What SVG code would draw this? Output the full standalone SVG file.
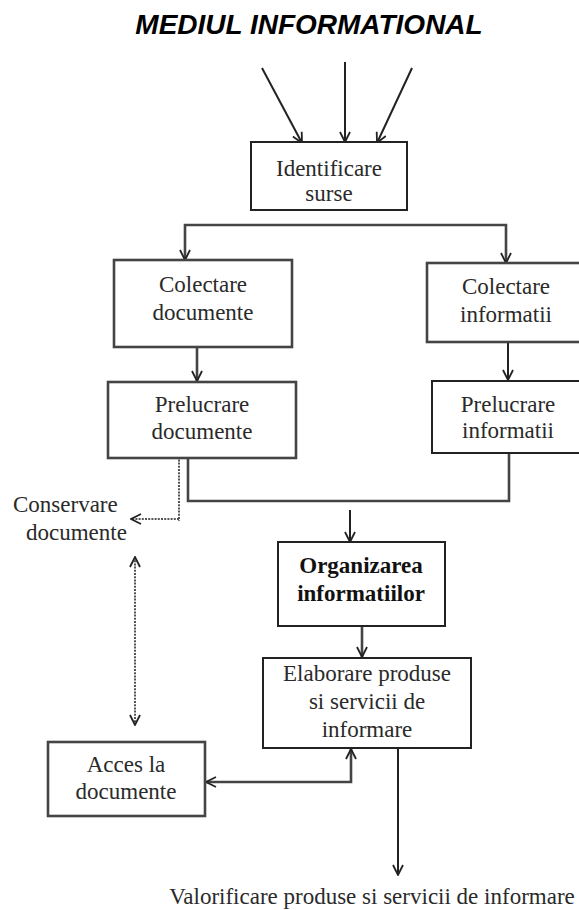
<svg xmlns="http://www.w3.org/2000/svg" width="579" height="910" viewBox="0 0 579 910">
<defs>
<style>
.box{fill:#fff;stroke:#222;stroke-width:2}
.boxg{fill:#fff;stroke:#444;stroke-width:2.6}
.t{font-family:"Liberation Serif","Times New Roman",serif;font-size:23px;fill:#2a2a2a;text-anchor:middle}
.tb{font-weight:bold;fill:#111}
.title{font-family:"Liberation Sans",Arial,sans-serif;font-size:28px;font-weight:bold;font-style:italic;fill:#000;text-anchor:middle}
.ln{fill:none;stroke:#222;stroke-width:2}
.lng{fill:none;stroke:#444;stroke-width:2.6}
.dot{fill:none;stroke:#555;stroke-width:2;stroke-dasharray:2 1.2}
</style>
<marker id="ah" viewBox="0 0 12 12" refX="11" refY="6" markerWidth="12" markerHeight="12" markerUnits="userSpaceOnUse" orient="auto-start-reverse">
<path d="M1,1 L11,6 L1,11" fill="none" stroke="#222" stroke-width="1.8"/>
</marker>
</defs>
<rect width="579" height="910" fill="#fff"/>
<text class="title" x="309" y="34">MEDIUL INFORMATIONAL</text>

<g id="connectors">
<line class="ln" x1="262" y1="68" x2="302" y2="143" marker-end="url(#ah)"/>
<line class="ln" x1="345" y1="62" x2="345" y2="142" marker-end="url(#ah)"/>
<line class="ln" x1="412" y1="68" x2="377" y2="143" marker-end="url(#ah)"/>
<path class="lng" d="M185,260 V225 H506 V263" marker-start="url(#ah)" marker-end="url(#ah)"/>
<line class="lng" x1="197" y1="347" x2="197" y2="381" marker-end="url(#ah)"/>
<line class="ln" x1="508" y1="342" x2="508" y2="380" marker-end="url(#ah)"/>
<path class="lng" d="M188,453 V501 H509 V453"/>
<path class="dot" d="M179,453 V521 M179,519 H131" marker-end="url(#ah)"/>
<line class="dot" x1="135" y1="557" x2="135" y2="725" marker-start="url(#ah)" marker-end="url(#ah)"/>
<line class="ln" x1="350" y1="510" x2="350" y2="542" marker-end="url(#ah)"/>
<line class="lng" x1="362" y1="626" x2="362" y2="657" marker-end="url(#ah)"/>
<path class="lng" d="M206,782 H351 V749" marker-start="url(#ah)" marker-end="url(#ah)"/>
<line class="ln" x1="398" y1="730" x2="398" y2="875" marker-end="url(#ah)"/>
</g>

<g id="identificare">
<rect class="box" x="251" y="142" width="156" height="68"/>
<text class="t" x="329" y="176">Identificare</text>
<text class="t" x="329" y="201">surse</text>
</g>
<g id="colectare-documente">
<rect class="boxg" x="114" y="260" width="178" height="87"/>
<text class="t" x="203" y="292">Colectare</text>
<text class="t" x="203" y="320">documente</text>
</g>
<g id="colectare-informatii">
<rect class="boxg" x="427" y="263" width="160" height="79"/>
<text class="t" x="506" y="294">Colectare</text>
<text class="t" x="506" y="322">informatii</text>
</g>
<g id="prelucrare-documente">
<rect class="boxg" x="108" y="382" width="188" height="76"/>
<text class="t" x="202" y="412">Prelucrare</text>
<text class="t" x="202" y="439">documente</text>
</g>
<g id="prelucrare-informatii">
<rect class="box" x="432" y="381" width="155" height="72"/>
<text class="t" x="508" y="412">Prelucrare</text>
<text class="t" x="508" y="438">informatii</text>
</g>
<g id="conservare-documente">
<text class="t" x="13" y="512" style="text-anchor:start">Conservare</text>
<text class="t" x="26" y="540" style="text-anchor:start">documente</text>
</g>
<g id="organizarea-informatiilor">
<rect class="box" x="278" y="542" width="167" height="84"/>
<text class="t tb" x="361" y="573">Organizarea</text>
<text class="t tb" x="361" y="601">informatiilor</text>
</g>
<g id="elaborare">
<rect class="box" x="263" y="658" width="208" height="90"/>
<text class="t" x="367" y="681">Elaborare produse</text>
<text class="t" x="367" y="709">si servicii de</text>
<text class="t" x="367" y="737">informare</text>
</g>
<g id="acces-documente">
<rect class="boxg" x="48" y="742" width="157" height="74"/>
<text class="t" x="126" y="772">Acces la</text>
<text class="t" x="126" y="799">documente</text>
</g>
<g id="valorificare">
<text class="t" x="372" y="904">Valorificare produse si servicii de informare</text>
</g>
</svg>
